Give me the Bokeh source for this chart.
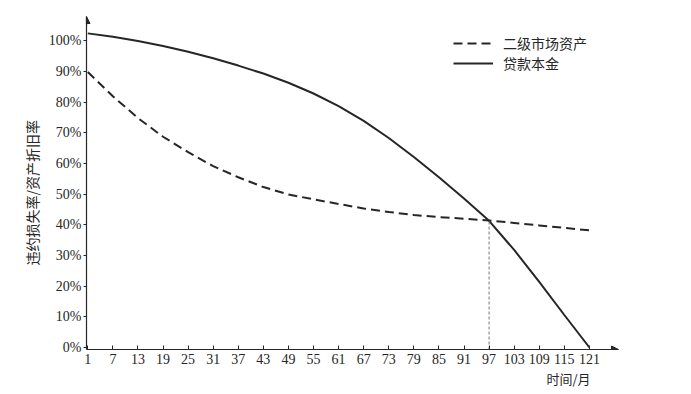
from bokeh.plotting import figure
from bokeh.models import (FixedTicker, PrintfTickFormatter, Legend, LegendItem,
                          Arrow, NormalHead, Range1d, Title)
from bokeh.embed import file_html
from bokeh.resources import INLINE

# ---- data ----
months = [1, 7, 13, 19, 25, 31, 37, 43, 49, 55, 61, 67, 73, 79, 85, 91, 97, 103, 109, 115, 121]
secondary_market = [89.8, 81.9, 74.8, 68.7, 63.7, 59.1, 55.5, 52.3, 49.9, 48.3, 46.8,
                    45.3, 44.2, 43.2, 42.5, 42.0, 41.4, 40.6, 39.8, 39.0, 38.2]
loan_principal = [102.4, 101.3, 99.9, 98.3, 96.4, 94.3, 91.9, 89.3, 86.3, 82.8, 78.7,
                  73.9, 68.3, 62.1, 55.5, 48.6, 41.3, 31.8, 21.4, 10.6, 0.0]
series_names = ["二级市场资产", "贷款本金"]
x_ticks = months
y_ticks = [0, 10, 20, 30, 40, 50, 60, 70, 80, 90, 100]
y_title = "违约损失率/资产折旧率"
x_title = "时间/月"
cross_month = 97
cross_value = 41.3

CJK = "Noto Sans CJK SC"
SERIF = "Liberation Serif"
INK = "#262626"

x0, x1 = 0.69, 127.96
y0, y1 = -0.65, 107.9

p = figure(width=691, height=394, output_backend="svg", toolbar_location=None,
           x_range=Range1d(x0, x1), y_range=Range1d(y0, y1),
           min_border_left=86, min_border_right=73, min_border_top=16, min_border_bottom=45)
p.outline_line_color = None
p.grid.visible = False
p.background_fill_color = "white"

# axes
for ax in (p.xaxis[0], p.yaxis[0]):
    ax.axis_line_color = INK
    ax.axis_line_width = 1.2
    ax.major_tick_line_color = INK
    ax.minor_tick_line_color = None
    ax.major_label_text_font = SERIF
    ax.major_label_text_font_size = "14px"
    ax.major_label_text_color = INK

p.xaxis.ticker = FixedTicker(ticks=x_ticks)
p.xaxis.major_tick_in = 4
p.xaxis.major_tick_out = 0
p.xaxis.major_label_standoff = 4

p.yaxis.ticker = FixedTicker(ticks=y_ticks)
p.yaxis.formatter = PrintfTickFormatter(format="%d%%")
p.yaxis.major_tick_in = 0
p.yaxis.major_tick_out = 3
p.yaxis.major_label_standoff = 2

# axis titles
p.add_layout(Title(text=y_title, align="left", offset=84, standoff=8,
                   text_font=CJK, text_font_size="14px", text_font_style="normal",
                   text_color=INK), "left")
p.add_layout(Title(text=x_title, align="left", offset=460, standoff=0,
                   text_font=CJK, text_font_size="13px", text_font_style="normal",
                   text_color=INK), "below")

# arrows on axes
p.add_layout(Arrow(end=NormalHead(size=7, fill_color=INK, line_color=INK),
                   x_start=x1 - 5, y_start=y0, x_end=x1, y_end=y0,
                   line_color=INK, line_width=1.2))
p.add_layout(Arrow(end=NormalHead(size=7, fill_color=INK, line_color=INK),
                   x_start=x0, y_start=y1 - 3, x_end=x0, y_end=y1,
                   line_color=INK, line_width=1.2))

# series
r_dash = p.line(months, secondary_market, line_color=INK, line_width=2, line_dash="9 5")
r_solid = p.line(months, loan_principal, line_color=INK, line_width=2)

# crossing marker
p.segment(x0=[cross_month], y0=[y0], x1=[cross_month], y1=[cross_value],
          line_color="#777777", line_width=1, line_dash="3 2")

legend = Legend(items=[LegendItem(label=series_names[0], renderers=[r_dash]),
                       LegendItem(label=series_names[1], renderers=[r_solid])],
                location=(367, 275.7), padding=0, margin=0, spacing=0,
                glyph_width=40, glyph_height=20, label_height=20, label_standoff=10,
                label_text_font=CJK, label_text_font_size="14px", label_text_color=INK,
                border_line_color=None, background_fill_alpha=0)
p.add_layout(legend, "center")

open("out.html", "w").write(file_html(p, INLINE))
